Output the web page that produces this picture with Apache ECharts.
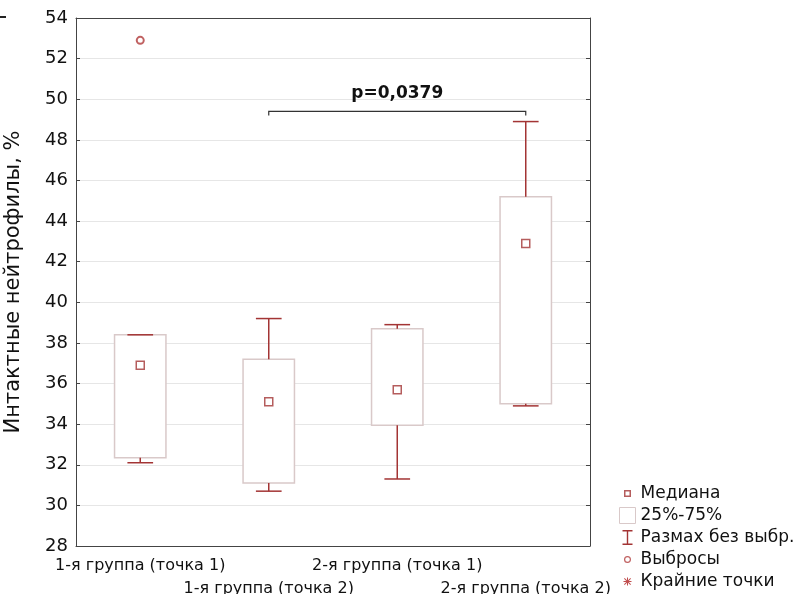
<!DOCTYPE html>
<html lang="ru">
<head>
    <meta charset="UTF-8">
    <title>Интактные нейтрофилы</title>
    <script src="https://cdn.jsdelivr.net/npm/echarts@6/dist/echarts.min.js"></script>
    <style>
        html, body { margin: 0; padding: 0; background: #fff; }
        #main { width: 796px; height: 594px; }
    </style>
</head>
<body>
<div id="main"></div>
<script>
    // данные
    var categories = ['1-я группа (точка 1)', '1-я группа (точка 2)', '2-я группа (точка 1)', '2-я группа (точка 2)'];
    var lowerWhisker = [32.1, 30.7, 31.3, 34.9];
    var q1 = [32.35, 31.1, 33.95, 35.0];
    var median = [36.9, 35.1, 35.7, 42.9];
    var q3 = [38.4, 37.2, 38.7, 45.2];
    var upperWhisker = [38.4, 39.2, 38.9, 48.9];
    var outliers = [[0, 52.9]];
    var yTicks = [28, 54, 2];  // min, max, шаг
    // скобка значимости: от категории, до категории, уровень
    var bracket = [[1, 3, 49.4]];
    var pLabel = 'p=0,0379';

    var dark = '#a33434';
    var boxBorder = '#d9c9c9';
    var font = 'DejaVu Sans';

    var boxData = categories.map(function (c, i) {
        return [i, lowerWhisker[i], q1[i], median[i], q3[i], upperWhisker[i]];
    });

    var myChart = echarts.init(document.getElementById('main'));

    var dots = ' M0,0h0.1v0.1h-0.1Z M16,16h-0.1v-0.1h0.1Z';
    var iconMedian = 'path://M4.5,4.5H11.5V11.5H4.5Z M6,6V10H10V6Z' + dots;
    var iconWhisker = 'path://M3,0.5H13V2H8.7V14H13V15.5H3V14H7.3V2H3Z' + dots;
    var iconOutlier = 'path://M8,4.5A3.5,3.5 0 1 1 7.99,4.5Z M8,5.7A2.3,2.3 0 1 0 8.01,5.7Z' + dots;
    var iconStar = 'path://M7.5,4H8.5V12H7.5Z M4,7.5H12V8.5H4Z M5.2,4.5L11.5,10.8L10.8,11.5L4.5,5.2Z M10.8,4.5L11.5,5.2L5.2,11.5L4.5,10.8Z' + dots;

    var option = {
        animation: false,
        textStyle: { fontFamily: font },
        grid: { left: 76, right: 206, top: 18, bottom: 48, outerBoundsMode: 'none' },
        legend: {
            orient: 'vertical',
            left: 619,
            top: 485,
            padding: 0,
            itemWidth: 16,
            itemHeight: 16,
            itemGap: 5,
            selectedMode: false,
            textStyle: { fontSize: 17, color: '#111', fontFamily: font },
            data: [
                { name: 'Медиана', icon: iconMedian, itemStyle: { color: dark, borderWidth: 0 } },
                { name: '25%-75%', icon: 'rect', itemStyle: { color: '#fff', borderColor: boxBorder, borderWidth: 1 } },
                { name: 'Размах без выбр.', icon: iconWhisker, itemStyle: { color: dark, borderWidth: 0 } },
                { name: 'Выбросы', icon: iconOutlier, itemStyle: { color: '#b03a3a', borderWidth: 0 } },
                { name: 'Крайние точки', icon: iconStar, itemStyle: { color: '#b02020', borderWidth: 0 } }
            ]
        },
        xAxis: [{
            type: 'category',
            data: categories,
            position: 'bottom',
            axisLine: { lineStyle: { color: '#444' } },
            axisTick: { inside: true, alignWithLabel: true, length: 4, lineStyle: { color: '#444' } },
            axisLabel: {
                interval: 0,
                margin: 8,
                fontSize: 16,
                lineHeight: 23,
                color: '#111',
                formatter: function (v, i) { return i % 2 ? '\n' + v : v; }
            },
            splitLine: { show: false }
        }, {
            type: 'category',
            data: categories,
            position: 'top',
            axisLine: { lineStyle: { color: '#444' } },
            axisTick: { inside: true, alignWithLabel: true, length: 4, lineStyle: { color: '#444' } },
            axisLabel: { show: false },
            splitLine: { show: false }
        }],
        yAxis: [{
            type: 'value',
            min: yTicks[0],
            max: yTicks[1],
            interval: yTicks[2],
            name: 'Интактные нейтрофилы, %',
            nameLocation: 'middle',
            nameGap: 52,
            nameTextStyle: { fontSize: 21, color: '#111' },
            axisLine: { show: true, lineStyle: { color: '#444' } },
            axisTick: { show: true, inside: true, length: 4, lineStyle: { color: '#444' } },
            axisLabel: { fontSize: 18, color: '#111', margin: 8 },
            splitLine: { lineStyle: { color: '#e6e6e6' } }
        }, {
            type: 'value',
            min: yTicks[0],
            max: yTicks[1],
            interval: yTicks[2],
            position: 'right',
            axisLine: { show: true, lineStyle: { color: '#444' } },
            axisTick: { show: true, inside: true, length: 4, lineStyle: { color: '#444' } },
            axisLabel: { show: false },
            splitLine: { show: false }
        }],
        series: [{
            name: '25%-75%',
            type: 'custom',
            data: boxData,
            encode: { x: 0, y: [1, 2, 3, 4, 5] },
            itemStyle: { color: '#fff', borderColor: boxBorder },
            renderItem: function (params, api) {
                var i = api.value(0);
                var bw = api.size([1, 0])[0] * 0.4;
                var top = api.coord([i, api.value(4)]);
                var bot = api.coord([i, api.value(2)]);
                return {
                    type: 'rect',
                    shape: { x: top[0] - bw / 2, y: top[1], width: bw, height: bot[1] - top[1] },
                    style: { fill: '#fff', stroke: boxBorder, lineWidth: 1.5 }
                };
            },
            z: 2
        }, {
            name: 'Размах без выбр.',
            type: 'custom',
            data: boxData,
            encode: { x: 0, y: [1, 5] },
            itemStyle: { color: dark },
            renderItem: function (params, api) {
                var i = api.value(0);
                var cap = api.size([1, 0])[0] * 0.2;
                var lo = api.coord([i, api.value(1)]);
                var b1 = api.coord([i, api.value(2)]);
                var b3 = api.coord([i, api.value(4)]);
                var hi = api.coord([i, api.value(5)]);
                var st = { stroke: dark, lineWidth: 1.5 };
                function ln(x1, y1, x2, y2) {
                    return { type: 'line', shape: { x1: x1, y1: y1, x2: x2, y2: y2 }, style: st };
                }
                return {
                    type: 'group',
                    children: [
                        ln(hi[0], hi[1], b3[0], b3[1]),
                        ln(hi[0] - cap / 2, hi[1], hi[0] + cap / 2, hi[1]),
                        ln(lo[0], lo[1], b1[0], b1[1]),
                        ln(lo[0] - cap / 2, lo[1], lo[0] + cap / 2, lo[1])
                    ]
                };
            },
            z: 3
        }, {
            name: 'Медиана',
            type: 'scatter',
            data: median.map(function (v, i) { return [i, v]; }),
            symbol: 'rect',
            symbolSize: 8,
            itemStyle: { color: '#fff', borderColor: dark, borderWidth: 1.5 },
            z: 4
        }, {
            name: 'Выбросы',
            type: 'scatter',
            data: outliers,
            symbol: 'emptyCircle',
            symbolSize: 7,
            itemStyle: { color: '#b03a3a', borderWidth: 1.3 },
            z: 4
        }, {
            name: 'Крайние точки',
            type: 'scatter',
            data: [],
            itemStyle: { color: '#b02020' }
        }, {
            name: 'p',
            type: 'custom',
            data: bracket,
            encode: { x: [0, 1], y: 2 },
            renderItem: function (params, api) {
                var a = api.coord([api.value(0), api.value(2)]);
                var b = api.coord([api.value(1), api.value(2)]);
                return {
                    type: 'group',
                    children: [{
                        type: 'polyline',
                        shape: { points: [[a[0], a[1] + 4], a, b, [b[0], b[1] + 4]] },
                        style: { stroke: '#333', lineWidth: 1.2, fill: null }
                    }, {
                        type: 'text',
                        x: (a[0] + b[0]) / 2,
                        y: a[1] - 18,
                        style: {
                            text: pLabel,
                            fill: '#111',
                            font: 'bold 17px "DejaVu Sans"',
                            align: 'center',
                            verticalAlign: 'middle'
                        }
                    }]
                };
            },
            z: 5
        }],
        graphic: [{
            type: 'line',
            shape: { x1: 0, y1: 17, x2: 6, y2: 17 },
            style: { stroke: '#222', lineWidth: 2 }
        }]
    };

    myChart.setOption(option);
</script>
</body>
</html>
